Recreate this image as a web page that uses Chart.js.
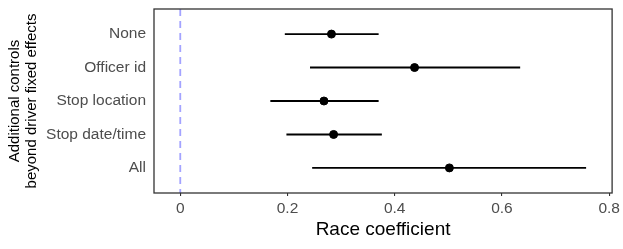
<!DOCTYPE html>
<html>
<head>
<meta charset="utf-8">
<script src="https://cdn.jsdelivr.net/npm/chart.js@4"></script>
<style>
  html, body { margin: 0; padding: 0; background: #fff; }
  #wrap { width: 623px; height: 249px; }
</style>
</head>
<body>
<div id="wrap"><canvas id="grafico"></canvas></div>
<script>
// dados
const categorias = ['None', 'Officer id', 'Stop location', 'Stop date/time', 'All']
const estimativas = [0.282, 0.437, 0.268, 0.286, 0.502]
const limiteInferior = [0.195, 0.242, 0.168, 0.198, 0.246]
const limiteSuperior = [0.370, 0.634, 0.370, 0.376, 0.757]
const ticksX = [0, 0.2, 0.4, 0.6, 0.8]

const Y_MIN = -0.75
const Y_MAX = 4.75

// segmentos dos intervalos, separados por null para quebrar a linha
const segmentos = []
categorias.forEach((c, i) => {
    segmentos.push({ x: limiteInferior[i], y: i })
    segmentos.push({ x: limiteSuperior[i], y: i })
    segmentos.push({ x: limiteSuperior[i], y: null })
})

const pontos = estimativas.map((v, i) => ({ x: v, y: i }))

// borda do painel (estilo ggplot)
const bordaPainel = {
    id: 'bordaPainel',
    afterDatasetsDraw(chart) {
        const { ctx, chartArea } = chart
        ctx.save()
        ctx.strokeStyle = '#333333'
        ctx.lineWidth = 1.3
        ctx.strokeRect(chartArea.left, chartArea.top, chartArea.right - chartArea.left, chartArea.bottom - chartArea.top)
        ctx.restore()
    }
}

const fonte = "'Liberation Sans', Arial, Helvetica, sans-serif"

new Chart(document.getElementById('grafico'), {
    data: {
        datasets: [
            {
                type: 'line',
                data: [{ x: 0, y: Y_MIN }, { x: 0, y: Y_MAX }],
                borderColor: '#a3a3ff',
                borderWidth: 1.8,
                borderDash: [7, 5],
                pointRadius: 0,
                order: 3
            },
            {
                type: 'line',
                data: segmentos,
                borderColor: '#000000',
                borderWidth: 1.9,
                pointRadius: 0,
                spanGaps: false,
                order: 2
            },
            {
                type: 'scatter',
                data: pontos,
                backgroundColor: '#000000',
                borderColor: '#000000',
                pointRadius: 4,
                order: 1
            }
        ]
    },
    options: {
        responsive: true,
        maintainAspectRatio: false,
        animation: false,
        layout: { padding: { top: 9, right: 10, left: 0, bottom: 0 } },
        plugins: {
            legend: { display: false },
            tooltip: { enabled: false }
        },
        scales: {
            x: {
                type: 'linear',
                min: -0.049,
                max: 0.8055,
                afterBuildTicks: (scale) => { scale.ticks = ticksX.map(v => ({ value: v })) },
                afterFit: (scale) => { scale.height = 56 },
                border: { display: false },
                grid: {
                    drawOnChartArea: false,
                    drawTicks: true,
                    tickLength: 3,
                    color: '#333333',
                    lineWidth: 1.1
                },
                ticks: {
                    padding: 3,
                    color: '#4d4d4d',
                    font: { family: fonte, size: 15.5 },
                    callback: (v) => String(Math.round(v * 10) / 10)
                },
                title: {
                    display: true,
                    text: 'Race coefficient',
                    color: '#000000',
                    font: { family: fonte, size: 19 },
                    padding: { top: 0, bottom: 8 }
                }
            },
            y: {
                type: 'linear',
                reverse: true,
                min: Y_MIN,
                max: Y_MAX,
                afterBuildTicks: (scale) => { scale.ticks = categorias.map((c, i) => ({ value: i })) },
                afterFit: (scale) => {
                    scale.width = 154
                    scale.paddingTop = 0
                    scale.paddingBottom = 0
                },
                border: { display: false },
                grid: { display: false },
                ticks: {
                    padding: 0,
                    color: '#4d4d4d',
                    font: { family: fonte, size: 15.5 },
                    callback: (v) => categorias[v] ?? ''
                },
                title: {
                    display: true,
                    text: ['Additional controls', 'beyond driver fixed effects'],
                    color: '#000000',
                    font: { family: fonte, size: 15, lineHeight: 1.15 },
                    padding: { top: 6, bottom: 0 }
                }
            }
        }
    },
    plugins: [bordaPainel]
})
</script>
</body>
</html>
